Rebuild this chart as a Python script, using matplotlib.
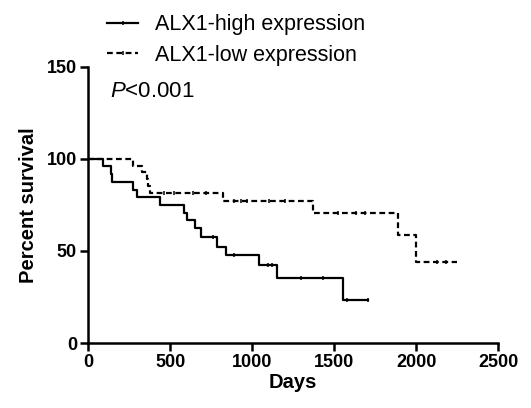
import numpy as np
import matplotlib
matplotlib.use("Agg")
import matplotlib.pyplot as plt
from matplotlib.lines import Line2D

plt.rcParams['font.family'] = ['Liberation Sans', 'DejaVu Sans']
plt.rcParams['mathtext.fontset'] = 'custom'
plt.rcParams['mathtext.it'] = 'Liberation Sans:italic'
plt.rcParams['mathtext.rm'] = 'Liberation Sans'

# Kaplan-Meier steps (days, percent survival)
high_t = [0, 90, 140, 148, 272, 295, 440, 582, 600, 650, 686, 784, 838, 1040, 1154, 1555, 1708]
high_s = [100, 95.8, 91.7, 87.5, 83.3, 79.2, 75.0, 70.8, 66.7, 62.5, 57.3, 52.3, 47.9, 42.1, 35.3, 23.5, 23.5]
high_cens = [760, 890, 1094, 1120, 1299, 1433, 1579, 1705]

low_t = [0, 271, 331, 361, 368, 375, 822, 1370, 1890, 1998, 2247]
low_s = [100, 96.3, 92.6, 88.9, 85.2, 81.5, 77.0, 70.5, 58.6, 44.0, 44.0]
low_cens = [461, 521, 641, 719, 890, 930, 970, 1100, 1200, 1526, 1636, 1686, 2126, 2180]

labels = ["ALX1-high expression", "ALX1-low expression"]


def surv_at(times, surv, t):
    idx = np.searchsorted(times, t, side='right') - 1
    return np.array(surv)[idx]


fig = plt.figure(figsize=(5.31, 4.08), dpi=100)
ax = fig.add_axes([0.166, 0.159, 0.772, 0.678])

lw = 1.6
dash = (0, (2.6, 1.6))
ax.step(high_t, high_s, where='post', color='black', lw=lw)
ax.plot(high_cens, surv_at(high_t, high_s, high_cens), '|', color='black', ms=3.5, mew=1.1)
ax.step(low_t, low_s, where='post', color='black', lw=lw, linestyle=dash)
ax.plot(low_cens, surv_at(low_t, low_s, low_cens), '|', color='black', ms=3.5, mew=1.1)

ax.set_xlim(0, 2500)
ax.set_ylim(0, 150)
ax.set_xticks([0, 500, 1000, 1500, 2000, 2500])
ax.set_yticks([0, 50, 100, 150])
for s in ['top', 'right']:
    ax.spines[s].set_visible(False)
for s in ['left', 'bottom']:
    ax.spines[s].set_linewidth(1.8)
ax.tick_params(width=1.8, length=6, labelsize=13, pad=2)
for lab in ax.get_xticklabels() + ax.get_yticklabels():
    lab.set_fontweight('bold')
ax.set_xlabel("Days", fontsize=14.5, fontweight='bold', labelpad=1)
ax.set_ylabel("Percent survival", fontsize=14.5, fontweight='bold', labelpad=6)

ax.text(0.053, 0.91, r"$\mathit{P}$<0.001", transform=ax.transAxes, fontsize=16,
        ha='left', va='center')

handles = [Line2D([], [], color='black', lw=lw, marker='|', ms=3.5, mew=1.1),
           Line2D([], [], color='black', lw=lw, linestyle=dash, marker='|', ms=3.5, mew=1.1)]
fig.legend(handles, labels, loc='upper left', bbox_to_anchor=(0.165, 1.012), frameon=False,
           fontsize=15.5, handlelength=1.45, handletextpad=0.8, labelspacing=0.42, numpoints=1)

fig.savefig("out.png", dpi=100)
